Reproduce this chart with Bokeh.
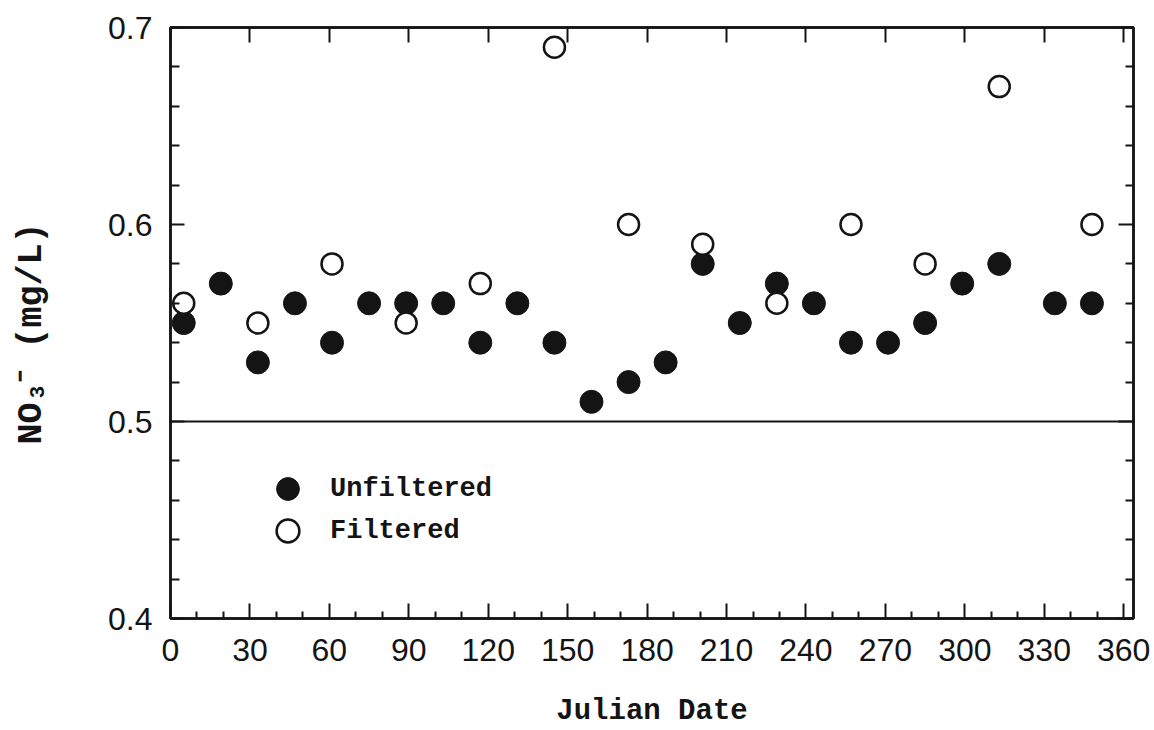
from bokeh.plotting import figure
from bokeh.models import (LinearAxis, FixedTicker, Span, Legend,
                          LegendItem, CustomJSTickFormatter, Range1d)
from bokeh.embed import file_html
from bokeh.resources import INLINE

# ---- data ----
days_unfiltered = [5, 19, 33, 47, 61, 75, 89, 103, 117, 131, 145, 159, 173, 187,
                   201, 215, 229, 243, 257, 271, 285, 299, 313, 334, 348]
no3_unfiltered = [0.55, 0.57, 0.53, 0.56, 0.54, 0.56, 0.56, 0.56, 0.54, 0.56, 0.54,
                  0.51, 0.52, 0.53, 0.58, 0.55, 0.57, 0.56, 0.54, 0.54, 0.55, 0.57,
                  0.58, 0.56, 0.56]
days_filtered = [5, 33, 61, 89, 117, 145, 173, 201, 229, 257, 285, 313, 348]
no3_filtered = [0.56, 0.55, 0.58, 0.55, 0.57, 0.69, 0.60, 0.59, 0.56, 0.60, 0.58,
                0.67, 0.60]
reference_level = 0.5
x_limits = (0, 363.7)
y_limits = (0.4, 0.7)
x_major_ticks = [0, 30, 60, 90, 120, 150, 180, 210, 240, 270, 300, 330, 360]
x_minor_ticks = [10, 20, 40, 50, 70, 80, 100, 110, 130, 140, 160, 170, 190, 200,
                 220, 230, 250, 260, 280, 290, 310, 320, 340, 350]
y_major_ticks = [0.4, 0.5, 0.6, 0.7]
y_minor_ticks = [0.42, 0.44, 0.46, 0.48, 0.52, 0.54, 0.56, 0.58,
                 0.62, 0.64, 0.66, 0.68]
x_title = "Julian Date"
y_title = "NO\u2083\u207b  (mg/L)"
legend_labels = ["Unfiltered", "Filtered"]

INK = "#141414"
MONO = "Liberation Mono"
SANS = "Liberation Sans"

p = figure(width=1154, height=730, output_backend="svg", toolbar_location=None,
           x_range=Range1d(*x_limits), y_range=Range1d(*y_limits),
           min_border_left=170, min_border_right=21, min_border_top=27,
           min_border_bottom=112)
p.grid.visible = False
p.background_fill_color = "white"
p.border_fill_color = "white"
p.outline_line_color = INK
p.outline_line_width = 2.5

def style_axis(ax, major_in, minor_in):
    ax.axis_line_color = INK
    ax.axis_line_width = 2.5
    ax.major_tick_line_color = INK
    ax.major_tick_line_width = 2
    ax.minor_tick_line_color = INK
    ax.minor_tick_line_width = 2
    ax.major_tick_in = major_in
    ax.major_tick_out = 0
    ax.minor_tick_in = minor_in
    ax.minor_tick_out = 0
    ax.major_label_text_font = SANS
    ax.major_label_text_font_size = "32px"
    ax.major_label_text_color = INK
    ax.axis_label_text_font = MONO
    ax.axis_label_text_font_style = "bold"
    ax.axis_label_text_color = INK

xa = p.xaxis[0]
xa.ticker = FixedTicker(ticks=x_major_ticks, minor_ticks=x_minor_ticks)
style_axis(xa, 15, 7)
xa.major_label_standoff = 20
xa.axis_label = x_title
xa.axis_label_text_font_size = "29px"
xa.axis_label_standoff = 31

ya = p.yaxis[0]
ya.ticker = FixedTicker(ticks=y_major_ticks, minor_ticks=y_minor_ticks)
style_axis(ya, 14, 9)
ya.major_label_standoff = 18
ya.axis_label = y_title
ya.axis_label_text_font_size = "35px"
ya.axis_label_standoff = 53

blank = CustomJSTickFormatter(code="return ''")
top = LinearAxis(ticker=FixedTicker(ticks=x_major_ticks, minor_ticks=[]),
                 formatter=blank)
style_axis(top, 15, 0)
top.major_label_standoff = 0
p.add_layout(top, "above")

right = LinearAxis(ticker=FixedTicker(ticks=y_major_ticks, minor_ticks=y_minor_ticks),
                   formatter=blank)
style_axis(right, 15, 8)
right.major_label_standoff = 0
p.add_layout(right, "right")

p.add_layout(Span(location=reference_level, dimension="width",
                  line_color=INK, line_width=2))

r_unf = p.scatter(days_unfiltered, no3_unfiltered, size=23, marker="circle",
                  fill_color=INK, line_color=INK, line_width=1)
r_fil = p.scatter(days_filtered, no3_filtered, size=21, marker="circle",
                  fill_color="white", line_color=INK, line_width=2.5)

leg_kw = dict(orientation="vertical", border_line_color=None,
              background_fill_alpha=0, glyph_width=57, glyph_height=57,
              label_standoff=14, padding=0, margin=0, spacing=0,
              label_text_font=MONO, label_text_font_size="27px",
              label_text_font_style="bold", label_text_color=INK)
p.add_layout(Legend(items=[LegendItem(label=legend_labels[0], renderers=[r_unf])],
                    location=(89, 101), **leg_kw), "center")
p.add_layout(Legend(items=[LegendItem(label=legend_labels[1], renderers=[r_fil])],
                    location=(89, 59), **leg_kw), "center")

open("out.html", "w").write(file_html(p, INLINE))
